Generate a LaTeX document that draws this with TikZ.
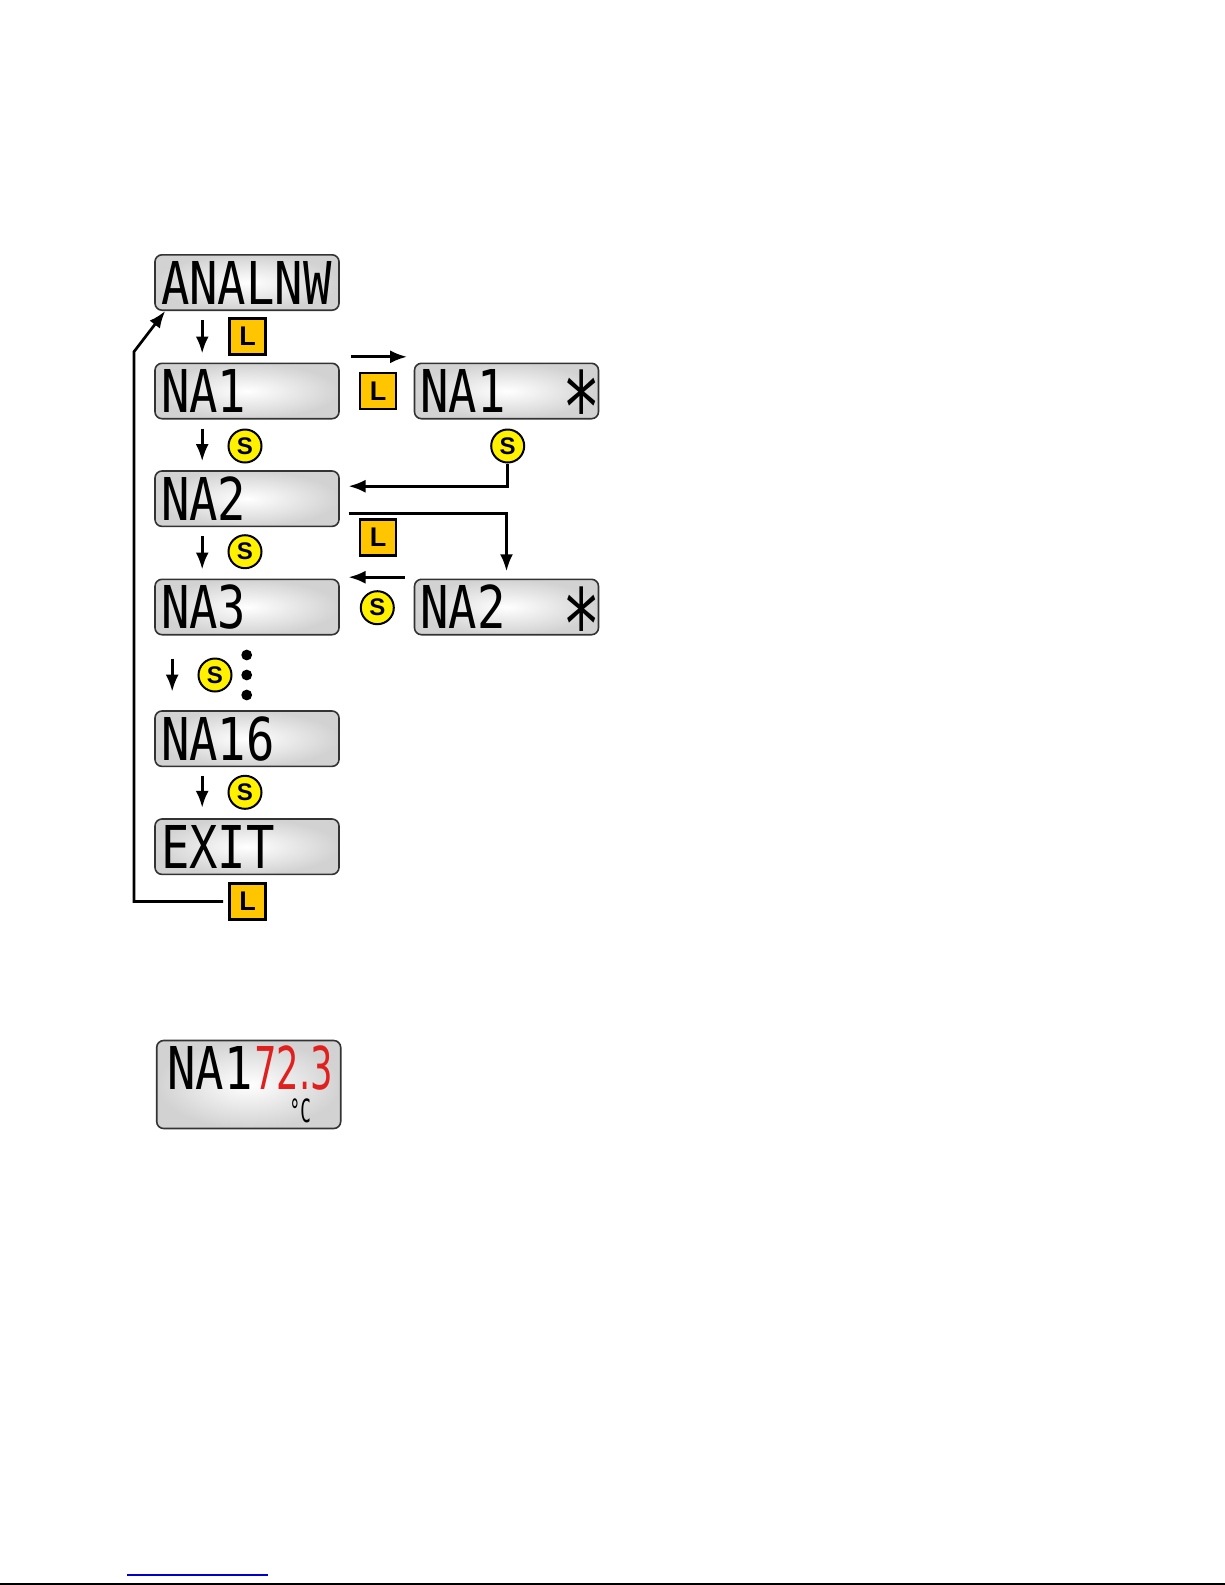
\documentclass[tikz,border=0pt]{standalone}
\usepackage{fontspec}
\usepackage{graphicx}
\usetikzlibrary{shapes.geometric, arrows.meta, positioning, calc}

\newfontfamily\lcdfont{DejaVu Sans Mono}
\newfontfamily\segfont{DejaVu Sans}
\newfontfamily\keyfont{Liberation Sans}
\definecolor{keyL}{HTML}{FFC600}
\definecolor{keyS}{HTML}{FFF100}
\definecolor{lcdgrey}{HTML}{D2D2D2}
\definecolor{lcdred}{HTML}{E0201E}
\definecolor{linkblue}{HTML}{0000CC}
\newcommand{\lcd}[1]{\scalebox{0.8}[1]{#1}}
\newcommand{\lcdstar}{\kern1.204em\smash{\raisebox{-0.515em}{\scalebox{1.35}[1.66]{*}}}}

\begin{document}
\begin{tikzpicture}[x=0.5pt, y=-0.5pt,
  lcd/.style={draw=black!80, line width=0.8pt, rounded corners=3.5pt,
    inner color=white, outer color=lcdgrey, minimum width=91.7pt, minimum height=27.7pt,
    text width=86pt, align=left, inner xsep=3pt, inner ysep=0pt,
    font=\lcdfont\fontsize{29.5}{30}\selectfont},
  lcdtxt/.style={inner sep=0pt, font=\lcdfont\fontsize{29.5}{30}\selectfont},
  Lkey/.style={draw, line width=1.3pt, fill=keyL, minimum size=18pt, inner sep=0pt,
    font=\keyfont\bfseries\fontsize{13.5}{13.5}\selectfont},
  Skey/.style={circle, draw, line width=1pt, fill=keyS, minimum size=16.5pt, inner sep=0pt,
    font=\keyfont\bfseries\fontsize{12}{12}\selectfont},
  flow/.style={-{Latex[length=8.5pt,width=6.5pt]}, line width=1.35pt},
  down/.style={flow, shorten <=4.5pt, shorten >=4.5pt},
]
\useasboundingbox (0,0) rectangle (1225,1585);

% menu displays
\node[lcd] (analnw) at (247,282.5) {\lcd{ANALNW}};
\node[lcd] (na1) at (247,391) {\lcd{NA1}};
\node[lcd] (na1s) at (506.5,391) {\lcd{NA1\lcdstar}};
\node[lcd] (na2) at (247,498.7) {\lcd{NA2}};
\node[lcd] (na3) at (247,607) {\lcd{NA3}};
\node[lcd] (na2s) at (506.5,607) {\lcd{NA2\lcdstar}};
\node[lcd] (na16) at (247,738.7) {\lcd{NA16}};
\node[lcd] (exit) at (247,846.7) {\lcd{EXIT}};

% keys
\node[Lkey] (l1) at (247.5,336.5) {L};
\node[Lkey] (l2) at (378,391) {L};
\node[Lkey] (l3) at (378,537.5) {L};
\node[Lkey] (l4) at (247.5,901.5) {L};
\node[Skey] (s1) at (245,446) {S};
\node[Skey] (s2) at (507.7,446) {S};
\node[Skey] (s3) at (245,551.7) {S};
\node[Skey] (s4) at (377.3,607.7) {S};
\node[Skey] (s5) at (215,675) {S};
\node[Skey] (s6) at (245,792.3) {S};
\foreach \y in {655,675,695} {
    \fill (246.7,\y) circle (2.7pt);
}

% arrows
\draw[down] ([xshift=24pt]analnw.south west) -- ([xshift=24pt]na1.north west);
\draw[down] ([xshift=24pt]na1.south west) -- ([xshift=24pt]na2.north west);
\draw[down] ([xshift=24pt]na2.south west) -- ([xshift=24pt]na3.north west);
\draw[flow, shorten <=11.5pt, shorten >=9.3pt] ([xshift=9pt]na3.south west) -- ([xshift=9pt]na16.north west);
\draw[flow, shorten <=4.2pt, shorten >=5.2pt] ([xshift=24pt]na16.south west) -- ([xshift=24pt]exit.north west);
\draw[flow] ([xshift=5.5pt,yshift=2.85pt]na1.north east) -- ([xshift=-3.3pt,yshift=2.85pt]na1s.north west);
\draw[flow] (s2) |- ([xshift=4.35pt,yshift=-8pt]na2.north east);
\draw[flow] ([xshift=4.35pt,yshift=6.7pt]na2.south east) -| ([yshift=3.6pt]na2s.north);
\draw[flow] ([xshift=-4.35pt,yshift=0.65pt]na2s.north west) -- ([xshift=4.35pt,yshift=0.65pt]na3.north east);
\coordinate (bend) at (134,351.7);
\draw[flow, shorten <=2.5pt] (l4) -| (bend) -- ([xshift=5.5pt]analnw.south west);

% reading display
\node[lcd, minimum height=44pt] (reading) at (248.7,1084.5) {};
\node[lcdtxt, anchor=west] (readname) at ([xshift=5.5pt,yshift=8.25pt]reading.west) {\lcd{NA1}};
\node[lcdtxt, anchor=east, text=lcdred] (readval) at ([xshift=-3.9pt,yshift=8.25pt]reading.east) {\scalebox{0.6}[1]{\segfont 72.3}};
\node[anchor=south west, inner sep=0pt, font=\lcdfont\fontsize{16}{16}\selectfont] (readunit) at ([xshift=66.7pt,yshift=3pt]reading.south west) {\scalebox{0.55}[1]{°C}};

% page edge
\draw[linkblue, line width=0.7pt] (127,1575) -- (268,1575);
\draw[line width=0.8pt] (0,1584) -- (1225,1584);
\end{tikzpicture}
\end{document}
